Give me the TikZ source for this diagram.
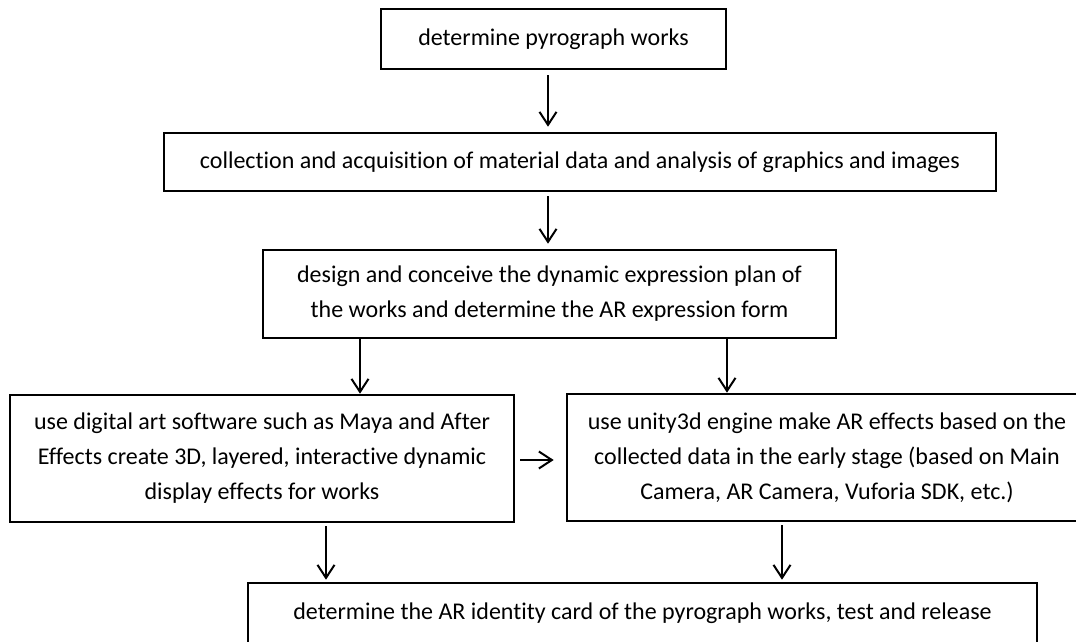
\documentclass[tikz,border=0pt]{standalone}
\usepackage{fontspec}
\setmainfont{Carlito}[Ligatures={NoCommon}]
\usetikzlibrary{arrows.meta}
\tikzset{
  box/.style={draw=black, line width=2.6pt, rectangle, inner sep=0pt, align=center,
    font=\fontsize{24}{35}\selectfont, text=black},
  arr/.style={draw=black, line width=2pt, -{Straight Barb[length=13pt,width=17pt,line width=2pt]}}
}
\begin{document}
\begin{tikzpicture}[x=1pt,y=-1pt]
\useasboundingbox (0,0) rectangle (1076,641);
\clip (0,0) rectangle (1076,641);
\fill[white] (0,0) rectangle (1076,641);
\node[box, minimum width=345pt, minimum height=60pt] (b1) at (553.5,39) {determine pyrograph works};
\node[box, minimum width=832pt, minimum height=58pt] (b2) at (580,162) {collection and acquisition of material data and analysis of graphics and images};
\node[box, minimum width=573pt, minimum height=88pt] (b3) at (549.5,294) {design and conceive the dynamic expression plan of\\the works and determine the AR expression form};
\node[box, minimum width=504pt, minimum height=127pt] (b4) at (262,458.5) {use digital art software such as Maya and After\\Effects create 3D, layered, interactive dynamic\\display effects for works};
\node[box, minimum width=520pt, minimum height=127pt] (b5) at (827,457.5) {use unity3d engine make AR effects based on the\\collected data in the early stage (based on Main\\Camera, AR Camera, Vuforia SDK, etc.)};
\node[box, minimum width=789pt, minimum height=60pt] (b6) at (642.5,613) {determine the AR identity card of the pyrograph works, test and release};
\draw[arr, shorten <=5pt, shorten >=5pt] (b1.south -| 548,0) -- (b2.north -| 548,0);
\draw[arr, shorten <=4pt, shorten >=5pt] (b2.south -| 548,0) -- (b3.north -| 548,0);
\draw[arr] (b3.south -| 360,0) -- (b4.north -| 360,0);
\draw[arr] (b3.south -| 727,0) -- (b5.north -| 727,0);
\draw[arr, shorten <=5pt, shorten >=12pt] (b4.east |- 0,460) -- (b5.west |- 0,460);
\draw[arr, shorten <=3pt, shorten >=2pt] (b4.south -| 326,0) -- (b6.north -| 326,0);
\draw[arr, shorten <=3pt, shorten >=2pt] (b5.south -| 782,0) -- (b6.north -| 782,0);
\end{tikzpicture}
\end{document}
